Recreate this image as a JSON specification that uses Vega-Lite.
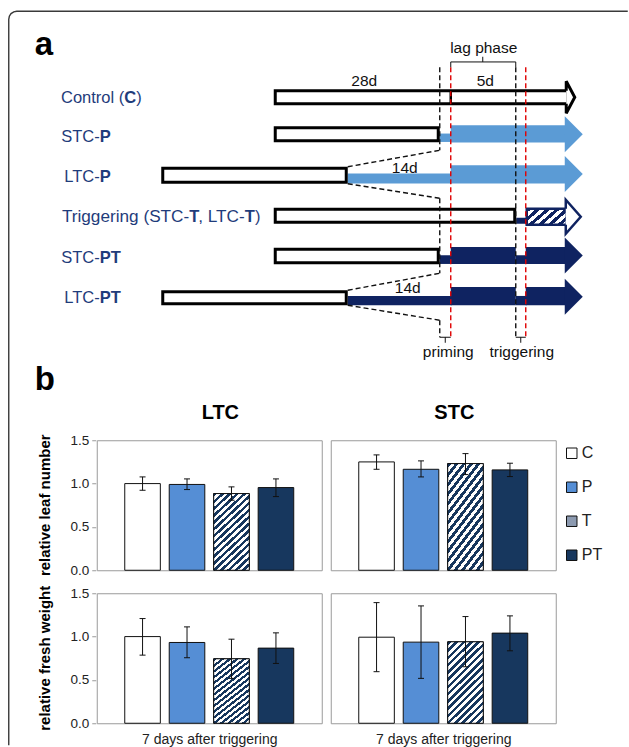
{
  "$schema": "https://vega.github.io/schema/vega-lite/v6.json",
  "padding": {"left": 5.75, "top": 8.25, "right": 0, "bottom": 0},
  "background": "white",
  "bounds": "flush",
  "spacing": 45,
  "resolve": {"scale": {"fill": "independent", "stroke": "independent"}, "legend": {"fill": "independent"}},
  "config": {
    "font": "Liberation Sans",
    "view": {"stroke": "#9a9a9a", "strokeWidth": 1},
    "legend": {"symbolStrokeColor": "#111111", "symbolStrokeWidth": 1},
    "axisY": {"values": [0, 0.5, 1, 1.5], "format": ".1f", "labelFontSize": 13.5, "labelColor": "#222", "tickColor": "#9a9a9a", "tickSize": 4, "domain": false, "grid": false, "labelPadding": 3},
    "axisX": {"labels": false, "ticks": false, "domain": false, "grid": false, "titleFontSize": 14, "titleFontWeight": "normal", "titleColor": "#222", "titlePadding": 8}
  },
  "datasets": {
    "frame": [
      {"x": 9, "y": 745, "o": 1}, {"x": 9, "y": 19, "o": 2}, {"x": 9.6, "y": 16, "o": 3}, {"x": 11.3, "y": 13.3, "o": 4},
      {"x": 14, "y": 11.6, "o": 5}, {"x": 17, "y": 11, "o": 6}, {"x": 628, "y": 11, "o": 7}
    ],
    "bars": [
      {"row": "STC-P", "line": "P", "x": 440, "x2": 452, "y": 133.3, "y2": 141.7},
      {"row": "STC-P", "line": "P", "x": 451, "x2": 567, "y": 125, "y2": 142.3},
      {"row": "LTC-P", "line": "P", "x": 348, "x2": 452, "y": 173.3, "y2": 183.3},
      {"row": "LTC-P", "line": "P", "x": 451, "x2": 567, "y": 165, "y2": 183.3},
      {"row": "Triggering", "line": "PT", "x": 516.5, "x2": 527, "y": 217.5, "y2": 223.5},
      {"row": "STC-PT", "line": "PT", "x": 440, "x2": 452, "y": 255, "y2": 263.7},
      {"row": "STC-PT", "line": "PT", "x": 451, "x2": 516, "y": 246.7, "y2": 263.7},
      {"row": "STC-PT", "line": "PT", "x": 516, "x2": 527, "y": 255, "y2": 263.7},
      {"row": "STC-PT", "line": "PT", "x": 526, "x2": 567, "y": 246.7, "y2": 263.7},
      {"row": "LTC-PT", "line": "PT", "x": 348, "x2": 452, "y": 295.7, "y2": 305},
      {"row": "LTC-PT", "line": "PT", "x": 451, "x2": 516, "y": 286.7, "y2": 305},
      {"row": "LTC-PT", "line": "PT", "x": 516, "x2": 527, "y": 295.7, "y2": 305},
      {"row": "LTC-PT", "line": "PT", "x": 526, "x2": 567, "y": 286.7, "y2": 305}
    ],
    "boxes": [
      {"row": "Control", "x": 275.5, "x2": 568, "y": 90.5, "y2": 103.5},
      {"row": "STC-P", "x": 275.5, "x2": 438.5, "y": 127.5, "y2": 140.5},
      {"row": "LTC-P", "x": 163, "x2": 346.5, "y": 168, "y2": 182},
      {"row": "Triggering", "x": 275.5, "x2": 515, "y": 209, "y2": 222},
      {"row": "STC-PT", "x": 275.5, "x2": 438.5, "y": 249, "y2": 262.5},
      {"row": "LTC-PT", "x": 163, "x2": 346.5, "y": 291.5, "y2": 303.5}
    ],
    "hatch": [{"row": "Triggering", "x": 527, "x2": 567, "y": 208.5, "y2": 224.5}],
    "heads": [
      {"row": "STC-P", "line": "P", "x": 574, "y": 134},
      {"row": "LTC-P", "line": "P", "x": 574, "y": 173.8},
      {"row": "STC-PT", "line": "PT", "x": 574, "y": 255.2},
      {"row": "LTC-PT", "line": "PT", "x": 574, "y": 296.5}
    ],
    "ctrlHead": [{"row": "Control", "x": 570.75, "y": 97}],
    "trigHead": [{"row": "Triggering", "x": 573.5, "y": 216.5}],
    "dashes": [
      {"kind": "guide", "x": 440, "y": 67, "x2": 440, "y2": 150},
      {"kind": "guide", "x": 440, "y": 198, "x2": 440, "y2": 273},
      {"kind": "guide", "x": 440, "y": 320, "x2": 440, "y2": 337},
      {"kind": "event", "x": 451, "y": 67, "x2": 451, "y2": 337},
      {"kind": "guide", "x": 516, "y": 67, "x2": 516, "y2": 337},
      {"kind": "event", "x": 526, "y": 67, "x2": 526, "y2": 337},
      {"kind": "guide", "x": 348, "y": 166.5, "x2": 440, "y2": 150},
      {"kind": "guide", "x": 348, "y": 183.5, "x2": 440, "y2": 198},
      {"kind": "guide", "x": 348, "y": 290, "x2": 440, "y2": 273},
      {"kind": "guide", "x": 348, "y": 305, "x2": 440, "y2": 320}
    ],
    "solid": [
      {"x": 451, "y": 61.7, "x2": 516, "y2": 61.7},
      {"x": 451, "y": 61.7, "x2": 451, "y2": 67},
      {"x": 516, "y": 61.7, "x2": 516, "y2": 67},
      {"x": 483, "y": 61.7, "x2": 483, "y2": 56.5},
      {"x": 440, "y": 337, "x2": 451, "y2": 337},
      {"x": 445.5, "y": 337, "x2": 445.5, "y2": 342.5},
      {"x": 516, "y": 337, "x2": 526, "y2": 337},
      {"x": 521, "y": 337, "x2": 521, "y2": 342.5}
    ],
    "sep": [{"x": 451, "y": 90, "x2": 451, "y2": 104}],
    "notes": [
      {"x": 484, "y": 52.5, "t": "lag phase"},
      {"x": 364.5, "y": 86, "t": "28d"},
      {"x": 485.5, "y": 86, "t": "5d"},
      {"x": 405, "y": 173, "t": "14d"},
      {"x": 408, "y": 293, "t": "14d"},
      {"x": 448.5, "y": 356.5, "t": "priming"},
      {"x": 522, "y": 356.5, "t": "triggering"}
    ],
    "labelsR": [
      {"x": 124.5, "y": 103, "t": "Control ("},
      {"x": 100, "y": 141.5, "t": "STC-"},
      {"x": 100, "y": 181.5, "t": "LTC-"},
      {"x": 100, "y": 263, "t": "STC-"},
      {"x": 100, "y": 302.5, "t": "LTC-"}
    ],
    "labelsTrig": [
      {"x": 189.5, "y": 222, "t": "Triggering (STC-"},
      {"x": 245, "y": 222, "t": ", LTC-"}
    ],
    "labelsL": [
      {"x": 136.5, "y": 103, "t": ")"},
      {"x": 255.3, "y": 222, "t": ")"}
    ],
    "labelsB": [
      {"x": 124.5, "y": 103, "t": "C"},
      {"x": 100, "y": 141.5, "t": "P"},
      {"x": 100, "y": 181.5, "t": "P"},
      {"x": 189.5, "y": 222, "t": "T"},
      {"x": 245, "y": 222, "t": "T"},
      {"x": 100, "y": 263, "t": "PT"},
      {"x": 100, "y": 302.5, "t": "PT"}
    ],
    "panels": [{"x": 35, "y": 55, "t": "a"}, {"x": 35, "y": 390, "t": "b"}],
    "bdata": [
      {"cond": "LTC", "measure": "relative leaf number", "trt": "C", "mean": 1.0, "lo": 0.923, "hi": 1.077},
      {"cond": "LTC", "measure": "relative leaf number", "trt": "P", "mean": 0.99, "lo": 0.931, "hi": 1.054},
      {"cond": "LTC", "measure": "relative leaf number", "trt": "T", "mean": 0.885, "lo": 0.808, "hi": 0.962},
      {"cond": "LTC", "measure": "relative leaf number", "trt": "PT", "mean": 0.954, "lo": 0.85, "hi": 1.054},
      {"cond": "STC", "measure": "relative leaf number", "trt": "C", "mean": 1.25, "lo": 1.165, "hi": 1.331},
      {"cond": "STC", "measure": "relative leaf number", "trt": "P", "mean": 1.165, "lo": 1.077, "hi": 1.262},
      {"cond": "STC", "measure": "relative leaf number", "trt": "T", "mean": 1.231, "lo": 1.104, "hi": 1.346},
      {"cond": "STC", "measure": "relative leaf number", "trt": "PT", "mean": 1.158, "lo": 1.081, "hi": 1.235},
      {"cond": "LTC", "measure": "relative fresh weight", "trt": "C", "mean": 1.0, "lo": 0.786, "hi": 1.208},
      {"cond": "LTC", "measure": "relative fresh weight", "trt": "P", "mean": 0.932, "lo": 0.756, "hi": 1.112},
      {"cond": "LTC", "measure": "relative fresh weight", "trt": "T", "mean": 0.744, "lo": 0.518, "hi": 0.97},
      {"cond": "LTC", "measure": "relative fresh weight", "trt": "PT", "mean": 0.867, "lo": 0.69, "hi": 1.043},
      {"cond": "STC", "measure": "relative fresh weight", "trt": "C", "mean": 0.993, "lo": 0.595, "hi": 1.392},
      {"cond": "STC", "measure": "relative fresh weight", "trt": "P", "mean": 0.936, "lo": 0.518, "hi": 1.354},
      {"cond": "STC", "measure": "relative fresh weight", "trt": "T", "mean": 0.94, "lo": 0.652, "hi": 1.231},
      {"cond": "STC", "measure": "relative fresh weight", "trt": "PT", "mean": 1.04, "lo": 0.836, "hi": 1.239}
    ]
  },
  "vconcat": [
    {
      "width": 532,
      "height": 384,
      "view": {"stroke": null},
      "encoding": {
        "x": {"field": "x", "type": "quantitative", "scale": {"domain": [97, 629], "nice": false, "zero": false}, "axis": null},
        "y": {"field": "y", "type": "quantitative", "scale": {"domain": [11, 395], "nice": false, "zero": false, "reverse": true}, "axis": null}
      },
      "layer": [
        {"data": {"name": "frame"}, "mark": {"type": "line", "color": "#3a3a3a", "strokeWidth": 1.4}, "encoding": {"order": {"field": "o", "type": "quantitative"}}},
        {"data": {"name": "bars"}, "mark": {"type": "rect"}, "encoding": {"x2": {"field": "x2"}, "y2": {"field": "y2"}, "fill": {"field": "line", "type": "nominal", "scale": {"domain": ["P", "PT"], "range": ["#5B9BD5", "#0F2361"]}, "legend": null}}},
        {"data": {"name": "boxes"}, "mark": {"type": "rect", "fill": "white", "stroke": "black", "strokeWidth": 3}, "encoding": {"x2": {"field": "x2"}, "y2": {"field": "y2"}}},
        {"data": {"name": "hatch"}, "mark": {"type": "rect", "stroke": "#0F2361", "strokeWidth": 2.5,
          "fill": {"gradient": "linear", "x1": 0, "y1": 0, "x2": 1.2, "y2": 0.55, "stops": [
            {"offset": 0, "color": "#0F2361"}, {"offset": 0.0833, "color": "#0F2361"}, {"offset": 0.0833, "color": "white"}, {"offset": 0.1667, "color": "white"},
            {"offset": 0.1667, "color": "#0F2361"}, {"offset": 0.25, "color": "#0F2361"}, {"offset": 0.25, "color": "white"}, {"offset": 0.3333, "color": "white"},
            {"offset": 0.3333, "color": "#0F2361"}, {"offset": 0.4167, "color": "#0F2361"}, {"offset": 0.4167, "color": "white"}, {"offset": 0.5, "color": "white"},
            {"offset": 0.5, "color": "#0F2361"}, {"offset": 0.5833, "color": "#0F2361"}, {"offset": 0.5833, "color": "white"}, {"offset": 0.6667, "color": "white"},
            {"offset": 0.6667, "color": "#0F2361"}, {"offset": 0.75, "color": "#0F2361"}, {"offset": 0.75, "color": "white"}, {"offset": 0.8333, "color": "white"},
            {"offset": 0.8333, "color": "#0F2361"}, {"offset": 0.9167, "color": "#0F2361"}, {"offset": 0.9167, "color": "white"}, {"offset": 1, "color": "white"}
          ]}}, "encoding": {"x2": {"field": "x2"}, "y2": {"field": "y2"}}},
        {"data": {"name": "heads"}, "mark": {"type": "point", "shape": "M-0.5,-1L0.5,0L-0.5,1Z", "size": 1296, "filled": true, "opacity": 1, "strokeWidth": 0}, "encoding": {"fill": {"field": "line", "type": "nominal", "scale": {"domain": ["P", "PT"], "range": ["#5B9BD5", "#0F2361"]}, "legend": null}}},
        {"data": {"name": "ctrlHead"}, "mark": {"type": "point", "shape": "M-0.266,-0.41L-0.266,-1L0.266,0L-0.266,1L-0.266,0.41", "size": 1024, "filled": true, "fill": "white", "stroke": "black", "strokeWidth": 3, "strokeJoin": "miter", "opacity": 1}},
        {"data": {"name": "trigHead"}, "mark": {"type": "point", "shape": "M-0.44,-0.47L-0.44,-1L0.44,0L-0.44,1L-0.44,0.47", "size": 1156, "filled": true, "fill": "white", "stroke": "#0F2361", "strokeWidth": 2.5, "strokeJoin": "miter", "opacity": 1}},
        {"data": {"name": "sep"}, "mark": {"type": "rule", "color": "black", "strokeWidth": 2.5}, "encoding": {"x2": {"field": "x2"}, "y2": {"field": "y2"}}},
        {"data": {"name": "dashes"}, "mark": {"type": "rule", "strokeWidth": 1.4, "strokeDash": [5, 3]}, "encoding": {"x2": {"field": "x2"}, "y2": {"field": "y2"}, "stroke": {"field": "kind", "type": "nominal", "scale": {"domain": ["guide", "event"], "range": ["#111111", "#E00000"]}, "legend": null}}},
        {"data": {"name": "solid"}, "mark": {"type": "rule", "color": "#111111", "strokeWidth": 1}, "encoding": {"x2": {"field": "x2"}, "y2": {"field": "y2"}}},
        {"data": {"name": "notes"}, "mark": {"type": "text", "fontSize": 15.5, "align": "center", "baseline": "alphabetic", "color": "#111111"}, "encoding": {"text": {"field": "t"}}},
        {"data": {"name": "labelsR"}, "mark": {"type": "text", "fontSize": 16.5, "align": "right", "baseline": "alphabetic", "color": "#1F3C7B"}, "encoding": {"text": {"field": "t"}}},
        {"data": {"name": "labelsTrig"}, "mark": {"type": "text", "fontSize": 17.2, "align": "right", "baseline": "alphabetic", "color": "#1F3C7B"}, "encoding": {"text": {"field": "t"}}},
        {"data": {"name": "labelsL"}, "mark": {"type": "text", "fontSize": 16.5, "align": "left", "baseline": "alphabetic", "color": "#1F3C7B"}, "encoding": {"text": {"field": "t"}}},
        {"data": {"name": "labelsB"}, "mark": {"type": "text", "fontSize": 16.5, "fontWeight": "bold", "align": "left", "baseline": "alphabetic", "color": "#1F3C7B"}, "encoding": {"text": {"field": "t"}}},
        {"data": {"name": "panels"}, "mark": {"type": "text", "fontSize": 33, "fontWeight": "bold", "align": "left", "baseline": "alphabetic", "color": "black"}, "encoding": {"text": {"field": "t"}}}
      ]
    },
    {
      "data": {"name": "bdata"},
      "facet": {
        "row": {"field": "measure", "type": "nominal", "sort": ["relative leaf number", "relative fresh weight"],
          "header": {"title": null, "labelAngle": -90, "labelOrient": "left", "labelFontSize": 15, "labelFontWeight": "bold", "labelColor": "black", "labelPadding": 10}},
        "column": {"field": "cond", "type": "nominal", "sort": ["LTC", "STC"],
          "header": {"title": null, "labelFontSize": 20, "labelFontWeight": "bold", "labelColor": "black", "labelBaseline": "alphabetic", "labelPadding": 0, "labelExpr": "'\u200b\u00a0\u00a0\u00a0\u00a0' + datum.value"}}
      },
      "spacing": {"row": 21, "column": 7},
      "spec": {
        "width": 225,
        "height": 130,
        "encoding": {
          "x": {"field": "trt", "type": "nominal", "sort": ["C", "P", "T", "PT"], "scale": {"paddingInner": 0.2, "paddingOuter": 0.63}, "axis": {"title": "7 days after triggering"}}
        },
        "layer": [
          {"mark": {"type": "bar", "stroke": "#111111", "strokeWidth": 1},
            "encoding": {
              "y": {"field": "mean", "type": "quantitative", "scale": {"domain": [0, 1.5], "nice": false}, "axis": {"title": null}},
              "fill": {"field": "trt", "type": "nominal", "sort": ["C", "P", "T", "PT"], "scale": {"domain": ["C", "P", "T", "PT"], "range": ["#FFFFFF", "#558ED5", "#8C9AB0", "#17375E"]},
                "legend": {"title": null, "orient": "right", "symbolType": "square", "symbolSize": 110, "symbolStrokeColor": "#111111", "symbolStrokeWidth": 1, "labelFontSize": 16, "labelColor": "#222", "rowPadding": 18, "offset": 2, "padding": 5, "labelOffset": 2}}
            }
          },
          {"transform": [{"filter": "datum.trt === 'T'"}],
            "mark": {"type": "bar", "stroke": "#111111", "strokeWidth": 1,
              "fill": {"gradient": "linear", "x1": 0, "y1": 0, "x2": 0.52, "y2": 1.2, "stops": [
                {"offset": 0, "color": "#17375E"}, {"offset": 0.03125, "color": "#17375E"}, {"offset": 0.03125, "color": "white"}, {"offset": 0.0625, "color": "white"},
                {"offset": 0.0625, "color": "#17375E"}, {"offset": 0.09375, "color": "#17375E"}, {"offset": 0.09375, "color": "white"}, {"offset": 0.125, "color": "white"},
                {"offset": 0.125, "color": "#17375E"}, {"offset": 0.15625, "color": "#17375E"}, {"offset": 0.15625, "color": "white"}, {"offset": 0.1875, "color": "white"},
                {"offset": 0.1875, "color": "#17375E"}, {"offset": 0.21875, "color": "#17375E"}, {"offset": 0.21875, "color": "white"}, {"offset": 0.25, "color": "white"},
                {"offset": 0.25, "color": "#17375E"}, {"offset": 0.28125, "color": "#17375E"}, {"offset": 0.28125, "color": "white"}, {"offset": 0.3125, "color": "white"},
                {"offset": 0.3125, "color": "#17375E"}, {"offset": 0.34375, "color": "#17375E"}, {"offset": 0.34375, "color": "white"}, {"offset": 0.375, "color": "white"},
                {"offset": 0.375, "color": "#17375E"}, {"offset": 0.40625, "color": "#17375E"}, {"offset": 0.40625, "color": "white"}, {"offset": 0.4375, "color": "white"},
                {"offset": 0.4375, "color": "#17375E"}, {"offset": 0.46875, "color": "#17375E"}, {"offset": 0.46875, "color": "white"}, {"offset": 0.5, "color": "white"},
                {"offset": 0.5, "color": "#17375E"}, {"offset": 0.53125, "color": "#17375E"}, {"offset": 0.53125, "color": "white"}, {"offset": 0.5625, "color": "white"},
                {"offset": 0.5625, "color": "#17375E"}, {"offset": 0.59375, "color": "#17375E"}, {"offset": 0.59375, "color": "white"}, {"offset": 0.625, "color": "white"},
                {"offset": 0.625, "color": "#17375E"}, {"offset": 0.65625, "color": "#17375E"}, {"offset": 0.65625, "color": "white"}, {"offset": 0.6875, "color": "white"},
                {"offset": 0.6875, "color": "#17375E"}, {"offset": 0.71875, "color": "#17375E"}, {"offset": 0.71875, "color": "white"}, {"offset": 0.75, "color": "white"},
                {"offset": 0.75, "color": "#17375E"}, {"offset": 0.78125, "color": "#17375E"}, {"offset": 0.78125, "color": "white"}, {"offset": 0.8125, "color": "white"},
                {"offset": 0.8125, "color": "#17375E"}, {"offset": 0.84375, "color": "#17375E"}, {"offset": 0.84375, "color": "white"}, {"offset": 0.875, "color": "white"},
                {"offset": 0.875, "color": "#17375E"}, {"offset": 0.90625, "color": "#17375E"}, {"offset": 0.90625, "color": "white"}, {"offset": 0.9375, "color": "white"},
                {"offset": 0.9375, "color": "#17375E"}, {"offset": 0.96875, "color": "#17375E"}, {"offset": 0.96875, "color": "white"}, {"offset": 1, "color": "white"}
              ]}},
            "encoding": {"y": {"field": "mean", "type": "quantitative", "axis": {"title": null}}}
          },
          {"mark": {"type": "rule", "color": "#111111", "strokeWidth": 1},
            "encoding": {"y": {"field": "lo", "type": "quantitative", "axis": {"title": null}}, "y2": {"field": "hi"}}},
          {"mark": {"type": "tick", "color": "#111111", "thickness": 1, "size": 6, "opacity": 1},
            "encoding": {"y": {"field": "lo", "type": "quantitative", "axis": {"title": null}}}},
          {"mark": {"type": "tick", "color": "#111111", "thickness": 1, "size": 6, "opacity": 1},
            "encoding": {"y": {"field": "hi", "type": "quantitative", "axis": {"title": null}}}}
        ]
      }
    }
  ]
}
